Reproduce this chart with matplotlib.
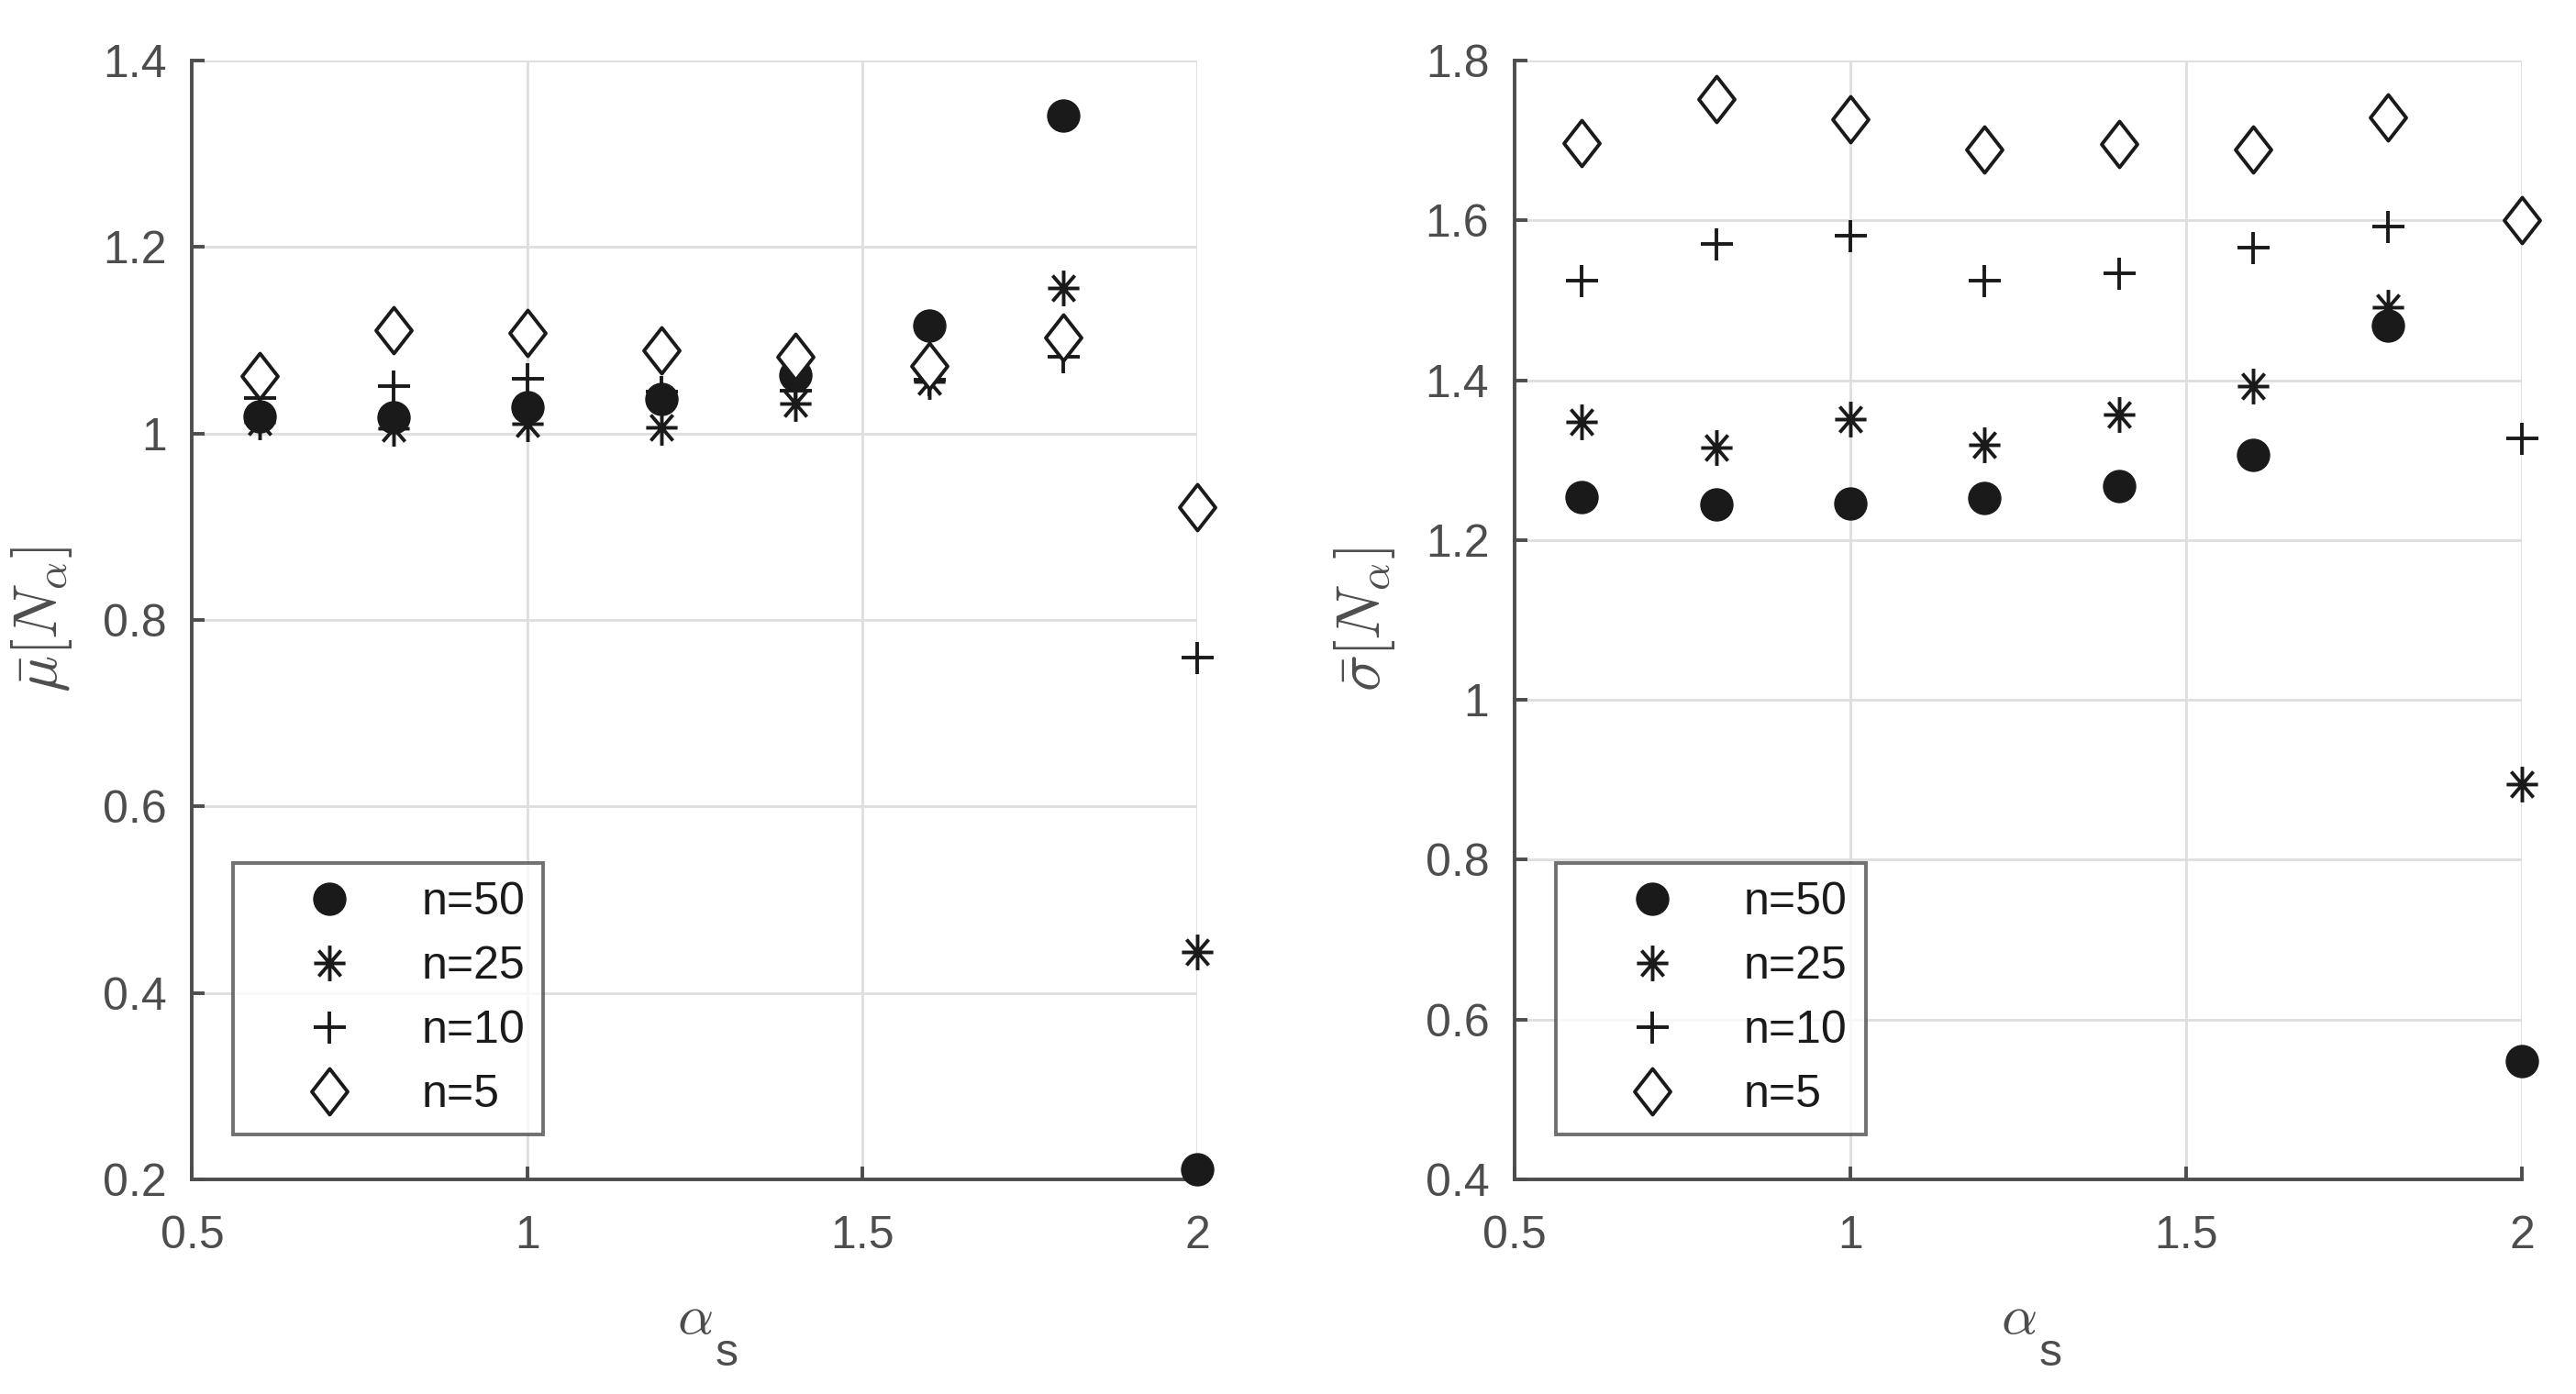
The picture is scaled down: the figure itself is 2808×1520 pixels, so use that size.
import matplotlib
matplotlib.use('Agg')
import matplotlib.pyplot as plt
from matplotlib.path import Path
from matplotlib.ticker import FixedLocator, FixedFormatter

alpha_s = [0.6, 0.8, 1.0, 1.2, 1.4, 1.6, 1.8, 2.0]

# mean of N_alpha
mu_n50 = [1.018, 1.017, 1.028, 1.037, 1.063, 1.116, 1.341, 0.211]
mu_n25 = [1.012, 1.006, 1.010, 1.007, 1.032, 1.056, 1.156, 0.444]
mu_n10 = [1.038, 1.051, 1.059, 1.045, 1.046, 1.058, 1.082, 0.760]
mu_n5 = [1.062, 1.111, 1.108, 1.089, 1.082, 1.072, 1.103, 0.921]

# std of N_alpha
sd_n50 = [1.254, 1.245, 1.246, 1.253, 1.268, 1.306, 1.468, 0.548]
sd_n25 = [1.348, 1.316, 1.351, 1.319, 1.357, 1.393, 1.491, 0.894]
sd_n10 = [1.524, 1.570, 1.581, 1.524, 1.534, 1.566, 1.592, 1.327]
sd_n5 = [1.697, 1.752, 1.727, 1.689, 1.696, 1.689, 1.729, 1.600]

labels = ['n=50', 'n=25', 'n=10', 'n=5']

xticks = [0.5, 1.0, 1.5, 2.0]
xtick_labels = ['0.5', '1', '1.5', '2']
mu_yticks = [0.2, 0.4, 0.6, 0.8, 1.0, 1.2, 1.4]
mu_ytick_labels = ['0.2', '0.4', '0.6', '0.8', '1', '1.2', '1.4']
sd_yticks = [0.4, 0.6, 0.8, 1.0, 1.2, 1.4, 1.6, 1.8]
sd_ytick_labels = ['0.4', '0.6', '0.8', '1', '1.2', '1.4', '1.6', '1.8']

plt.rcParams['font.family'] = ['Liberation Sans', 'DejaVu Sans']
plt.rcParams['mathtext.fontset'] = 'cm'

axis_col = '#4d4d4d'
mark_col = '#1a1a1a'
grid_col = '#dedede'

# matlab style asterisk (plus + cross)
asterisk = Path([(-0.88, 0), (0.88, 0), (0, -1), (0, 1),
                 (-0.62, -0.72), (0.62, 0.72), (-0.62, 0.72), (0.62, -0.72)],
                [Path.MOVETO, Path.LINETO] * 4)
# diamond a bit narrower than tall, like the original
diamond = Path([(0, 1), (0.78, 0), (0, -1), (-0.78, 0), (0, 1)],
               [Path.MOVETO, Path.LINETO, Path.LINETO, Path.LINETO, Path.CLOSEPOLY])

styles = [
    dict(marker='o', ms=12.6, mfc=mark_col, mec=mark_col, mew=0.5),
    dict(marker=asterisk, ms=14, mfc='none', mec=mark_col, mew=1.4),
    dict(marker='+', ms=12.6, mec=mark_col, mew=1.4),
    dict(marker=diamond, ms=18, mfc='white', mec=mark_col, mew=1.4),
]

fig = plt.figure(figsize=(14.04, 7.6), dpi=200)
ax1 = fig.add_axes([0.0746, 0.154, 0.3903, 0.8026])
ax2 = fig.add_axes([0.588, 0.154, 0.391, 0.8026])


def draw(ax, series, yticks, ytick_labels, ylim, ylabel):
    for ys, lab, st in zip(series, labels, styles):
        ax.plot(alpha_s, ys, linestyle='none', label=lab, clip_on=False, zorder=3, **st)
    ax.set_xlim(0.5, 2.0)
    ax.set_ylim(*ylim)
    ax.xaxis.set_major_locator(FixedLocator(xticks))
    ax.xaxis.set_major_formatter(FixedFormatter(xtick_labels))
    ax.yaxis.set_major_locator(FixedLocator(yticks))
    ax.yaxis.set_major_formatter(FixedFormatter(ytick_labels))
    ax.grid(True, color=grid_col, linewidth=1.0, zorder=0)
    ax.set_axisbelow(True)
    for s in ['top', 'right']:
        ax.spines[s].set_visible(False)
    for s in ['left', 'bottom']:
        ax.spines[s].set_color(axis_col)
        ax.spines[s].set_linewidth(1.4)
    ax.tick_params(axis='both', direction='in', length=5, width=1.4, color=axis_col,
                   labelcolor=axis_col, labelsize=18)
    ax.tick_params(axis='x', pad=14)
    ax.tick_params(axis='y', pad=10)
    ax.set_xlabel(r'$\alpha$', fontsize=22, color=axis_col, labelpad=14)
    # subscript "s" in plain sans, larger and lower than mathtext would put it
    ax.annotate('s', xy=(1, 0), xycoords=ax.xaxis.label, xytext=(1, 5),
                textcoords='offset points', ha='left', va='top',
                fontsize=18, color=axis_col)
    ax.set_ylabel(ylabel, fontsize=24, color=axis_col, labelpad=11)
    leg = ax.legend(loc='lower left', bbox_to_anchor=(0.041, 0.040), borderaxespad=0,
                    fontsize=18, frameon=True, fancybox=False, borderpad=0.4,
                    handlelength=3.4, handletextpad=0.3, labelspacing=0.48, numpoints=1)
    leg.get_frame().set_edgecolor(axis_col)
    leg.get_frame().set_linewidth(1.4)
    for t in leg.get_texts():
        t.set_color(mark_col)


draw(ax1, [mu_n50, mu_n25, mu_n10, mu_n5], mu_yticks, mu_ytick_labels, (0.2, 1.4),
     r'$\bar{\mu}[N_{\alpha}]$')
draw(ax2, [sd_n50, sd_n25, sd_n10, sd_n5], sd_yticks, sd_ytick_labels, (0.4, 1.8),
     r'$\bar{\sigma}[N_{\alpha}]$')

fig.savefig('out.png', dpi=200)
